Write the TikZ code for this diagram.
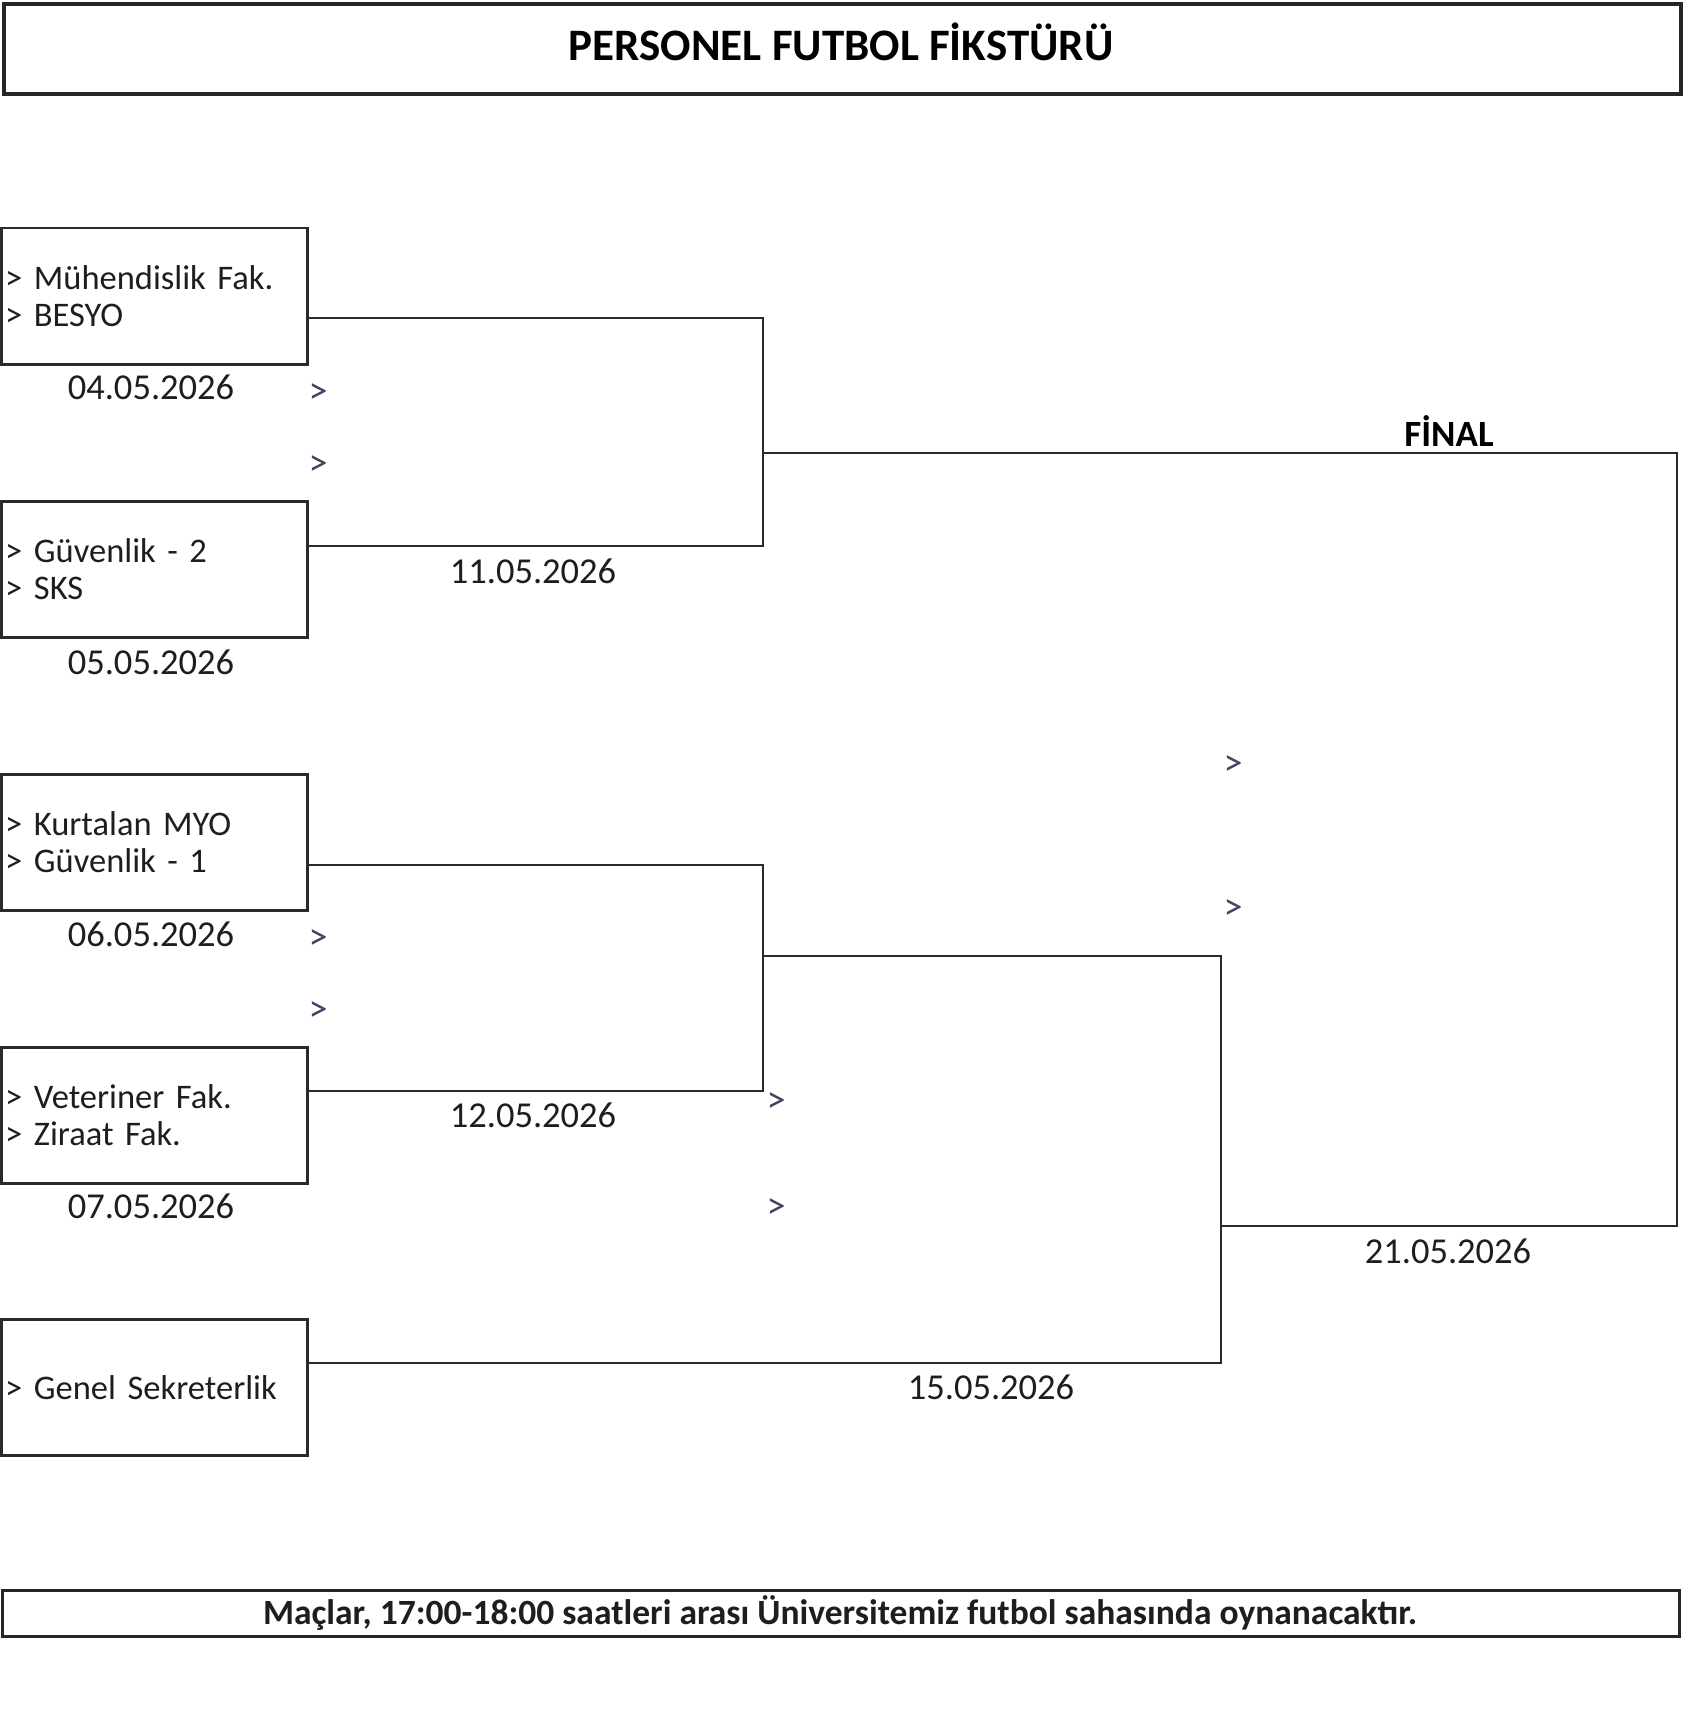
\documentclass[tikz,border=0pt]{standalone}
\usepackage{fontspec}
\setmainfont{Carlito}
\definecolor{txt}{HTML}{1E1E1E}
\definecolor{mark}{HTML}{4A3F60}
\definecolor{ln}{HTML}{2A2A2A}
\begin{document}
\begin{tikzpicture}[x=1pt,y=-1pt,
  teambox/.style={draw=ln,line width=2.5pt,anchor=north west,inner xsep=4pt,inner ysep=0pt,
    text width=298pt,minimum height=136pt,align=left,text=txt,font=\fontsize{34.5}{36.5}\selectfont},
  datelbl/.style={text=txt,font=\fontsize{36.5}{38}\selectfont,inner sep=0pt},
  mk/.style={text=mark,font=\fontsize{38}{40}\selectfont,inner sep=0pt},
  conn/.style={draw=ln,line width=2.5pt,line cap=rect}]
\useasboundingbox (0,0) rectangle (1682,1720);
\fill[white] (0,0) rectangle (1682,1720);
% title
\node[draw=black!85,line width=4pt,minimum width=1677pt,minimum height=90pt,anchor=north west] (titlebox) at (2,2) {};
\node[font=\bfseries\fontsize{45}{47}\selectfont,text=black,inner sep=0pt] (title) at (841,42) {PERSONEL FUTBOL FİKSTÜRÜ};
% team boxes
\node[teambox] (b1) at (0,227) {> Mühendislik Fak.\\> BESYO};
\node[teambox] (b2) at (0,500) {> Güvenlik - 2\\> SKS};
\node[teambox] (b3) at (0,773) {> Kurtalan MYO\\> Güvenlik - 1};
\node[teambox] (b4) at (0,1046) {> Veteriner Fak.\\> Ziraat Fak.};
\node[teambox] (b5) at (0,1318) {> Genel Sekreterlik};
% dates under boxes
\node[datelbl] (d1) at (151,387) {04.05.2026};
\node[datelbl] (d2) at (151,662) {05.05.2026};
\node[datelbl] (d3) at (151,934) {06.05.2026};
\node[datelbl] (d4) at (151,1206) {07.05.2026};
% junction coordinates
\coordinate (j1) at (763,453);
\coordinate (j2) at (763,956);
\coordinate (j3) at (1221,1226);
\coordinate (fr) at (1677,453);
% round 1 connectors
\draw[conn] (b1.east |- 0,318) -- (763,318) -- (763,546) -- (b2.east |- 0,546);
\draw[conn] (b3.east |- 0,865) -- (763,865) -- (763,1091) -- (b4.east |- 0,1091);
% semi / final connectors
\draw[conn] (j2) -- (1221,956) -- (1221,1363) -- (b5.east |- 0,1363);
\draw[conn] (j1) -- (fr) -- (1677,1226) -- (j3);
% round 2 dates
\node[datelbl] (d5) at (533,571) {11.05.2026};
\node[datelbl] (d6) at (533,1115) {12.05.2026};
\node[datelbl] (d7) at (991,1387) {15.05.2026};
\node[datelbl] (d8) at (1448,1251) {21.05.2026};
\node[text=black,font=\bfseries\fontsize{37}{39}\selectfont,inner sep=0pt] (fin) at (1449,431) {FİNAL};
% markers
\node[mk] (m1) at (318,394) {>};
\node[mk] (m2) at (318,466) {>};
\node[mk] (m3) at (318,940) {>};
\node[mk] (m4) at (318,1012) {>};
\node[mk] (m5) at (776,1103) {>};
\node[mk] (m6) at (776,1209) {>};
\node[mk] (m7) at (1233,766) {>};
\node[mk] (m8) at (1233,910) {>};
% footer
\node[draw=black!85,line width=3pt,minimum width=1677pt,minimum height=46pt,anchor=north west,inner sep=0pt] (footbox) at (1,1589) {};
\node[font=\bfseries\fontsize{35.5}{37}\selectfont,text=txt,inner sep=0pt] (foot) at (840,1613) {Maçlar, 17:00-18:00 saatleri arası Üniversitemiz futbol sahasında oynanacaktır.};
\end{tikzpicture}
\end{document}
